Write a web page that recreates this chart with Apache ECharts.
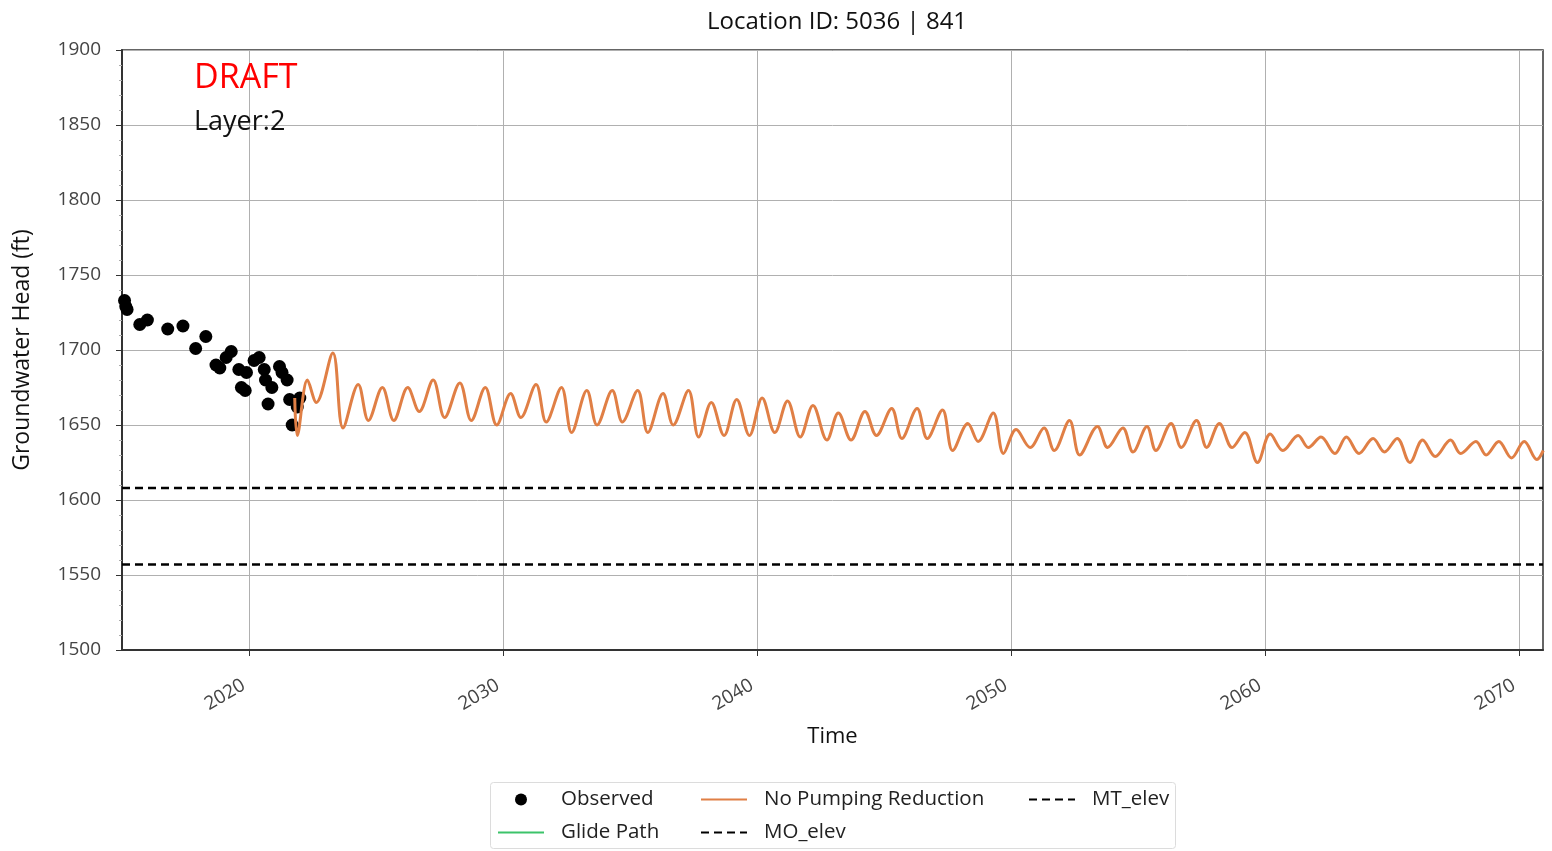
<!DOCTYPE html>
<html>
<head>
<meta charset="utf-8">
<script src="https://cdn.jsdelivr.net/npm/echarts@6/dist/echarts.min.js"></script>
<style>
html,body{margin:0;padding:0;background:#fff;}
#chart{width:1552px;height:851px;}
</style>
</head>
<body>
<div id="chart"></div>
<script>
// ---- data (decimal years, feet) ----
const obsYears = [2015.1, 2015.15, 2015.2, 2015.7, 2016.0, 2016.8, 2017.4, 2017.9, 2018.3, 2018.7, 2018.85, 2019.1, 2019.3, 2019.6, 2019.7, 2019.85, 2019.9, 2020.2, 2020.4, 2020.6, 2020.65, 2020.75, 2020.9, 2021.2, 2021.3, 2021.5, 2021.6, 2021.7, 2021.9, 2022.0];
const obsHeads = [1733, 1729, 1727, 1717, 1720, 1714, 1716, 1701, 1709, 1690, 1688, 1695, 1699, 1687, 1675, 1673, 1685, 1693, 1695, 1687, 1680, 1664, 1675, 1689, 1685, 1680, 1667, 1650, 1662, 1668];

const simYears = [2021.8, 2021.9, 2022.3, 2022.65, 2023.3, 2023.7, 2024.3, 2024.7, 2025.25, 2025.7, 2026.25, 2026.7, 2027.25, 2027.7, 2028.3, 2028.75, 2029.3, 2029.75, 2030.3, 2030.7, 2031.3, 2031.7, 2032.3, 2032.7, 2033.3, 2033.7, 2034.3, 2034.7, 2035.3, 2035.7, 2036.3, 2036.7, 2037.3, 2037.7, 2038.2, 2038.7, 2039.2, 2039.7, 2040.2, 2040.7, 2041.2, 2041.7, 2042.2, 2042.75, 2043.2, 2043.7, 2044.25, 2044.7, 2045.3, 2045.7, 2046.3, 2046.7, 2047.3, 2047.7, 2048.3, 2048.7, 2049.3, 2049.7, 2050.2, 2050.75, 2051.3, 2051.7, 2052.3, 2052.7, 2053.4, 2053.8, 2054.4, 2054.8, 2055.35, 2055.7, 2056.3, 2056.7, 2057.3, 2057.7, 2058.2, 2058.7, 2059.2, 2059.7, 2060.2, 2060.7, 2061.3, 2061.7, 2062.2, 2062.75, 2063.2, 2063.7, 2064.25, 2064.7, 2065.2, 2065.7, 2066.2, 2066.7, 2067.3, 2067.7, 2068.3, 2068.7, 2069.2, 2069.7, 2070.2, 2070.7, 2070.95];
const simHeads = [1668, 1643, 1680, 1665, 1698, 1648, 1677, 1653, 1675, 1653, 1675, 1659, 1680, 1655, 1678, 1653, 1675, 1650, 1671, 1655, 1677, 1652, 1675, 1645, 1673, 1650, 1673, 1652, 1673, 1645, 1671, 1650, 1673, 1642, 1665, 1643, 1667, 1643, 1668, 1645, 1666, 1642, 1663, 1640, 1658, 1640, 1659, 1643, 1661, 1641, 1661, 1641, 1660, 1633, 1651, 1639, 1658, 1631, 1647, 1635, 1648, 1633, 1653, 1630, 1649, 1635, 1648, 1632, 1649, 1633, 1651, 1635, 1653, 1635, 1651, 1635, 1645, 1625, 1644, 1633, 1643, 1635, 1642, 1631, 1642, 1631, 1641, 1632, 1641, 1625, 1640, 1629, 1640, 1631, 1639, 1630, 1639, 1628, 1639, 1627, 1633];

const glideYears = [];
const glideHeads = [];

const moElev = 1608;
const mtElev = 1557;

const xTickValues = [2020, 2030, 2040, 2050, 2060, 2070];
const xMin = 2015.0, xMax = 2070.94;
const yMin = 1500, yMax = 1900, yStep = 50;

const titleText = 'Location ID: 5036 | 841';
// ---------------------------------

const zip = (a, b) => a.map((v, i) => [v, b[i]]);
const FONT = 'Open Sans';
const noSym = {color: 'rgba(0,0,0,0)', borderWidth: 0, opacity: 0};

const chart = echarts.init(document.getElementById('chart'), null, {renderer: 'canvas'});

const legendCommon = {
  orient: 'vertical',
  padding: 0,
  itemWidth: 46,
  itemHeight: 12,
  itemGap: 12,
  top: 789,
  textStyle: {fontFamily: FONT, fontSize: 20.5, color: '#222', lineHeight: 20, padding: [0, 0, 0, 12]}
};

chart.setOption({
  animation: false,
  backgroundColor: '#fff',
  title: {
    text: titleText,
    left: 832, top: 5, textAlign: 'center',
    textStyle: {fontFamily: FONT, fontSize: 24, fontWeight: 'normal', color: '#111'}
  },
  grid: {left: 122, right: 9, top: 50, bottom: 201, outerBoundsMode: 'none', containLabel: false,
         show: true, borderColor: '#333', borderWidth: 1.5, backgroundColor: 'transparent'},
  legend: [
    Object.assign({}, legendCommon, {left: 497, data: [{name: 'Observed', icon: 'circle'}, {name: 'Glide Path', itemStyle: noSym}]}),
    Object.assign({}, legendCommon, {left: 700, data: [{name: 'No Pumping Reduction', itemStyle: noSym}, {name: 'MO_elev', itemStyle: noSym}]}),
    Object.assign({}, legendCommon, {left: 1028, data: [{name: 'MT_elev', itemStyle: noSym}]})
  ],
  xAxis: {
    type: 'value', min: xMin, max: xMax,
    name: 'Time', nameLocation: 'middle', nameGap: 76,
    nameTextStyle: {fontFamily: FONT, fontSize: 22, color: '#111'},
    axisLine: {lineStyle: {color: '#333', width: 2}},
    axisTick: {show: true, length: 6, customValues: xTickValues, lineStyle: {color: '#333'}},
    axisLabel: {customValues: xTickValues, rotate: 30, margin: 31, padding: [0, 6, 0, 0], fontFamily: FONT, fontSize: 19, color: '#444', formatter: v => String(Math.round(v))},
    splitLine: {show: true, lineStyle: {color: '#b0b0b0', width: 1}}
  },
  yAxis: {
    type: 'value', min: yMin, max: yMax, interval: yStep,
    name: 'Groundwater Head (ft)', nameLocation: 'middle', nameGap: 88, nameRotate: 90,
    nameTextStyle: {fontFamily: FONT, fontSize: 23, color: '#111'},
    axisLine: {show: true, lineStyle: {color: '#333', width: 2}},
    axisTick: {show: true, length: 6, lineStyle: {color: '#333'}},
    minorTick: {show: true, splitNumber: 5, length: 3, lineStyle: {color: '#aaa'}},
    axisLabel: {margin: 21, fontFamily: FONT, fontSize: 19, color: '#444', formatter: v => String(v)},
    splitLine: {show: true, lineStyle: {color: '#b0b0b0', width: 1}}
  },
  graphic: [
    {type: 'rect', left: 490, top: 782, shape: {width: 685, height: 66, r: 3}, style: {fill: 'rgba(255,255,255,0.9)', stroke: '#dcdcdc', lineWidth: 1}, z: 0},
    {type: 'text', left: 194, top: 61, style: {text: 'DRAFT', fill: '#ff0000', fontFamily: FONT, fontSize: 34}, z: 10},
    {type: 'text', left: 194, top: 109, style: {text: 'Layer:2', fill: '#111', fontFamily: FONT, fontSize: 27}, z: 10}
  ],
  series: [
    {
      name: 'Observed', type: 'scatter', symbol: 'circle', symbolSize: 13,
      itemStyle: {color: '#000', opacity: 1}, data: zip(obsYears, obsHeads), z: 3
    },
    {
      name: 'Glide Path', type: 'line', showSymbol: false, symbol: 'none',
      lineStyle: {color: '#3cc36a', width: 2.5}, itemStyle: {color: '#3cc36a'},
      data: zip(glideYears, glideHeads)
    },
    {
      name: 'No Pumping Reduction', type: 'line', symbol: 'none', smooth: 0.35,
      lineStyle: {color: '#e07f45', width: 3}, itemStyle: {color: '#e8795a'},
      data: zip(simYears, simHeads), z: 4
    },
    {
      name: 'MO_elev', type: 'line', symbol: 'none',
      lineStyle: {color: '#000', width: 2.5, type: [8, 5]}, itemStyle: {color: '#000'},
      data: [[xMin, moElev], [xMax, moElev]]
    },
    {
      name: 'MT_elev', type: 'line', symbol: 'none',
      lineStyle: {color: '#000', width: 2.5, type: [8, 5]}, itemStyle: {color: '#000'},
      data: [[xMin, mtElev], [xMax, mtElev]]
    }
  ]
});
</script>
</body>
</html>
